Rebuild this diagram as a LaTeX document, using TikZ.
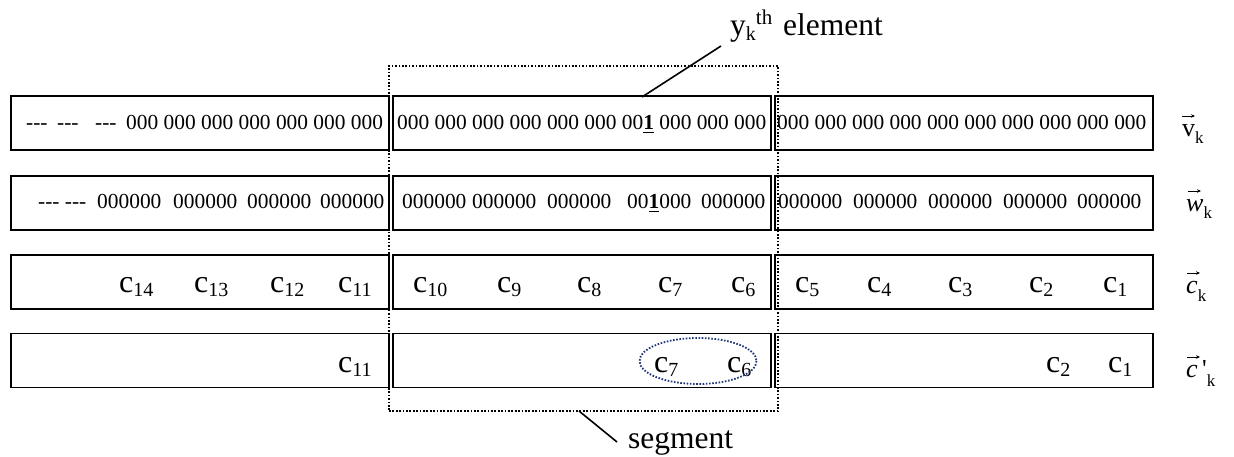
\documentclass[tikz,border=0pt]{standalone}
\usepackage{amsmath}
\usepackage{fontspec}
\setmainfont{Liberation Serif}
\usetikzlibrary{arrows.meta}
\definecolor{ellblue}{RGB}{32,56,120}
\newcommand{\cel}[1]{{\fontsize{32}{32}\selectfont c}\raisebox{-4.5pt}{\fontsize{20}{20}\selectfont #1}}
\newcommand{\onebit}{\underline{\textbf{1}}}
\newcommand{\dsh}{-{}-{}-}
\begin{document}
\begin{tikzpicture}[x=1pt,y=-1pt,
  box/.style={draw, line width=1.9pt, minimum width=378pt, minimum height=54pt, inner sep=0pt},
  tx/.style={anchor=base west, inner sep=0pt, font=\fontsize{21.4}{24}\selectfont},
  cx/.style={anchor=base west, inner sep=0pt},
  lab/.style={anchor=base west, inner sep=0pt, font=\fontsize{26}{28}\selectfont},
  big/.style={anchor=base west, inner sep=0pt, font=\fontsize{31.5}{34}\selectfont},
  segbox/.style={draw, line width=1.5pt, dash pattern=on 1.7pt off 1.7pt, inner sep=0pt},
  lead/.style={line width=1.6pt},
  vecarrow/.style={line width=0.9pt, -{Stealth[length=4pt,width=3.5pt]}}]
\useasboundingbox (0,0) rectangle (1234,457);

% boxes
\foreach \r/\y in {1/123,2/203,3/282,4/360.5}{
  \node[box] (L\r) at (200,\y) {};
  \node[box] (M\r) at (582,\y) {};
  \node[box] (R\r) at (964,\y) {};
}

% segment box
\node[segbox, minimum width=389pt, minimum height=345pt] (segment) at (583.5,238.5) {};

% row 1
\node[tx] (t1a) at (26,130) {\dsh};
\node[tx] (t1b) at (57,130) {\dsh};
\node[tx] (t1c) at (95,130) {\dsh};
\node[tx] (t1d) at (126,130) {000 000 000 000 000 000 000};
\node[tx] (t1e) at (397,130) {000 000 000 000 000 000 00\onebit{} 000 000 000};
\node[tx] (t1f) at (777,130) {000 000 000 000 000 000 000 000 000 000};

% row 2
\node[tx] (t2a) at (38,209) {\dsh{} \dsh};
\foreach \x [count=\i] in {97,173,247,320}{\node[tx] (t2L\i) at (\x,209) {000000};}
\node[tx] (t2M1) at (402,209) {000000};
\node[tx] (t2M2) at (472,209) {000000};
\node[tx] (t2M3) at (547,209) {000000};
\node[tx] (t2M4) at (627,209) {00\onebit000};
\node[tx] (t2M5) at (701,209) {000000};
\foreach \x [count=\i] in {778,853,928,1003,1077}{\node[tx] (t2R\i) at (\x,209) {000000};}

% row 3
\foreach \x/\n in {119/14,194/13,270/12,338/11,413/10,497/9,577/8,658/7,731/6,795/5,867/4,948/3,1029/2,1103/1}{
  \node[cx] (c3-\n) at (\x,292) {\cel{\n}};
}
% row 4
\foreach \x/\n in {338/11,654/7,727/6,1046/2,1108/1}{
  \node[cx] (c4-\n) at (\x,372) {\cel{\n}};
}

% ellipse around c7 c6
\draw[ellblue, line width=1.8pt, dash pattern=on 1.6pt off 1.6pt] (698,361) ellipse [x radius=58.5, y radius=23];

% right labels
\node[lab] (lv) at (1182,137) {v\raisebox{-6.5pt}{\fontsize{17}{17}\selectfont k}};
\node[lab] (lw) at (1186,212) {\textit{w}\raisebox{-6.5pt}{\fontsize{17}{17}\selectfont k}};
\node[lab] (lc) at (1186,293) {\textit{c}\raisebox{-8pt}{\fontsize{17}{17}\selectfont k}};
\node[lab] (lcp) at (1186,377) {\textit{c}\,\textquotesingle\raisebox{-9pt}{\fontsize{17}{17}\selectfont k}};
\draw[vecarrow] (1182,116) -- (1195,116);
\draw[vecarrow] (1188,191) -- (1201,191);
\draw[vecarrow] (1187,273) -- (1200,273);
\draw[vecarrow] (1187,357) -- (1200,357);

% top label
\node[big] (ylab) at (730,36) {y\raisebox{-5pt}{\fontsize{20}{20}\selectfont k}\raisebox{11pt}{\fontsize{21}{21}\selectfont th}\hspace{3pt} element};
\coordinate (yA) at (721,46);
\coordinate (yB) at (642,97);
\draw[lead] (yA) -- (yB);

% bottom label
\node[big] (slab) at (628,448) {segment};
\coordinate (sA) at (579,411);
\coordinate (sB) at (617,442);
\draw[lead] (sA) -- (sB);
\end{tikzpicture}
\end{document}
